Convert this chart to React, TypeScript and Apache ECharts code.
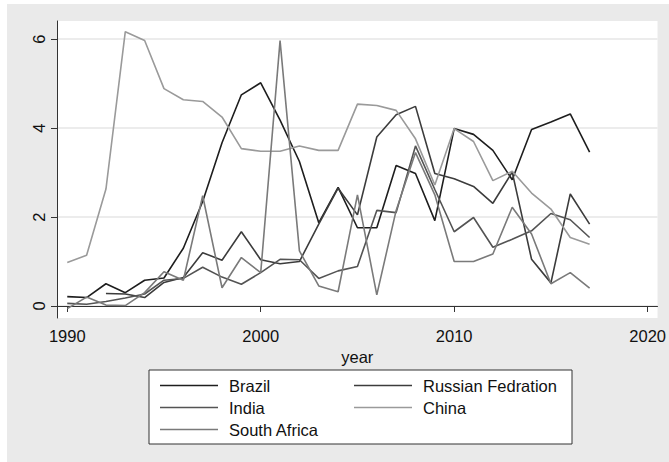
import { useEffect, useRef } from 'react';
import * as echarts from 'echarts';

const years = [
  1990, 1991, 1992, 1993, 1994, 1995, 1996, 1997, 1998, 1999,
  2000, 2001, 2002, 2003, 2004, 2005, 2006, 2007, 2008, 2009,
  2010, 2011, 2012, 2013, 2014, 2015, 2016, 2017,
];

const brazil = [
  0.21, 0.19, 0.5, 0.3, 0.58, 0.63, 1.3, 2.35, 3.67, 4.75,
  5.02, 4.18, 3.25, 1.87, 2.67, 1.76, 1.76, 3.16, 2.98, 1.92,
  3.99, 3.86, 3.5, 2.84, 3.97, 4.14, 4.32, 3.46,
];
const russia: (number | null)[] = [
  null, null, 0.28, 0.27, 0.19, 0.53, 0.64, 1.2, 1.03, 1.67,
  1.04, 0.95, 1.0, 1.84, 2.65, 2.05, 3.8, 4.3, 4.49, 2.98,
  2.86, 2.69, 2.31, 3.01, 1.05, 0.52, 2.52, 1.84,
];
const india = [
  0.06, 0.04, 0.1, 0.18, 0.27, 0.58, 0.62, 0.87, 0.65, 0.49,
  0.75, 1.05, 1.04, 0.62, 0.79, 0.89, 2.15, 2.1, 3.6, 2.62,
  1.67, 1.99, 1.32, 1.5, 1.69, 2.08, 1.94, 1.54,
];
const china = [
  0.98, 1.14, 2.63, 6.17, 5.97, 4.89, 4.64, 4.6, 4.25, 3.54,
  3.48, 3.48, 3.6, 3.5, 3.5, 4.54, 4.51, 4.4, 3.76, 2.72,
  3.99, 3.7, 2.82, 3.03, 2.54, 2.18, 1.54, 1.39,
];
const southAfrica = [
  -0.06, 0.2, 0.02, 0.01, 0.3, 0.77, 0.58, 2.48, 0.41, 1.09,
  0.75, 5.97, 1.24, 0.45, 0.32, 2.5, 0.25, 2.15, 3.45, 2.5,
  1.0, 1.0, 1.17, 2.22, 1.62, 0.5, 0.75, 0.4,
];

const xTicks = [1990, 2000, 2010, 2020];
const yTicks = [0, 2, 4, 6];

const seriesNames = ['Brazil', 'Russian Fedration', 'India', 'China', 'South Africa'];
const seriesValues = [brazil, russia, india, china, southAfrica];
const seriesColors = ['#1e1e1e', '#3c3c3c', '#545454', '#9a9a9a', '#7a7a7a'];

const FONT = '"Liberation Sans", Arial, sans-serif';
const FS = 16.5;

export default function App() {
  const ref = useRef<HTMLDivElement>(null);

  useEffect(() => {
    document.body.style.margin = '0';
    const chart = echarts.init(ref.current as HTMLDivElement, null, { renderer: 'svg' });

    const series = seriesNames.map((name, i) => ({
      name,
      type: 'line',
      symbol: 'none',
      showSymbol: false,
      connectNulls: false,
      lineStyle: { color: seriesColors[i], width: 1.6 },
      itemStyle: { color: seriesColors[i] },
      data: years
        .map((y, k) => [y, seriesValues[i][k]])
        .filter((p) => p[1] !== null),
    }));

    const legendCommon = {
      orient: 'vertical',
      top: 368,
      itemWidth: 58,
      itemHeight: 1.5,
      itemGap: 5,
      icon: 'rect',
      selectedMode: false,
      textStyle: {
        fontFamily: FONT,
        fontSize: FS,
        color: '#111',
        lineHeight: 17,
        padding: [0, 0, 0, 6],
      },
    };

    chart.setOption({
      animation: false,
      backgroundColor: '#eaeaea',
      textStyle: { fontFamily: FONT },
      grid: {
        left: 50,
        right: 7,
        top: 17,
        bottom: 144,
        show: true,
        backgroundColor: '#ffffff',
        borderWidth: 0,
      },
      graphic: [
        {
          type: 'rect',
          z: 0,
          shape: { x: 142, y: 366, width: 423, height: 74 },
          style: { fill: '#ffffff', stroke: '#333333', lineWidth: 1 },
        },
      ],
      legend: [
        { ...legendCommon, left: 148, data: ['Brazil', 'India', 'South Africa'] },
        { ...legendCommon, left: 342, data: ['Russian Fedration', 'China'] },
      ],
      xAxis: {
        type: 'value',
        min: 1989.47,
        max: 2020.51,
        name: 'year',
        nameLocation: 'middle',
        nameGap: 26,
        nameTextStyle: { fontFamily: FONT, fontSize: FS, color: '#111' },
        axisLine: { show: true, lineStyle: { color: '#333', width: 1 } },
        axisTick: { show: true, customValues: xTicks, length: 6, lineStyle: { color: '#333' } },
        axisLabel: {
          customValues: xTicks,
          formatter: (v: number) => String(v),
          fontFamily: FONT,
          fontSize: FS,
          color: '#111',
          margin: 9,
        },
        splitLine: { show: false },
      },
      yAxis: {
        type: 'value',
        min: -0.27,
        max: 6.41,
        axisLine: { show: true, lineStyle: { color: '#333', width: 1 } },
        axisTick: { show: true, customValues: yTicks, length: 6, lineStyle: { color: '#333' } },
        axisLabel: {
          customValues: yTicks,
          formatter: (v: number) => String(v),
          fontFamily: FONT,
          fontSize: FS,
          color: '#111',
          rotate: 90,
          margin: 10,
        },
        splitLine: { show: true, lineStyle: { color: '#e6e6e6', width: 1.5 } },
      },
      series,
    });

    return () => chart.dispose();
  }, []);

  return (
    <div
      ref={ref}
      style={{ position: 'absolute', left: 7, top: 4, width: 662, height: 458 }}
    />
  );
}
